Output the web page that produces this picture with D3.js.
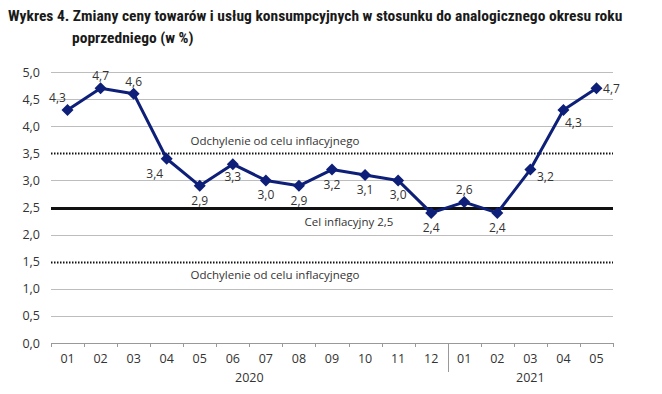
<!DOCTYPE html>
<html>
<head>
<meta charset="utf-8">
<script src="https://cdn.jsdelivr.net/npm/d3@7"></script>
<style>
body { margin: 0; background: #fff; }
text { font-family: "Open Sans", "Noto Sans", sans-serif; }
</style>
</head>
<body>
<script>
// dane
var months = ["01","02","03","04","05","06","07","08","09","10","11","12","01","02","03","04","05"];
var values = [4.3, 4.7, 4.6, 3.4, 2.9, 3.3, 3.0, 2.9, 3.2, 3.1, 3.0, 2.4, 2.6, 2.4, 3.2, 4.3, 4.7];
var yTicks = [0, 0.5, 1, 1.5, 2, 2.5, 3, 3.5, 4, 4.5, 5];
var years = ["2020", "2021"];
// pozycja etykiety: a = nad, b = pod, r = z prawej
var labelPos = ["al","a","a","bl","b","b","b","b","b","b","b","b","a","b","rb","br","r"];

var w = 662, h = 394;
var pLeft = 51, pRight = 613, pTop = 72, pBottom = 343;

var svg = d3.select("body").append("svg")
    .attr("width", w)
    .attr("height", h);

var x = d3.scaleBand()
    .domain(d3.range(months.length))
    .range([pLeft, pRight]);

var y = d3.scaleLinear()
    .domain([0, 5])
    .range([pBottom, pTop]);

// tytuł
var title = svg.append("text")
    .attr("x", 8).attr("y", 21)
    .style("font-family", "'Liberation Sans Narrow', 'Roboto Condensed', sans-serif")
    .style("font-weight", "bold")
    .style("font-size", "15.5px")
    .attr("fill", "#1a1a1a");
title.append("tspan").text("Wykres 4. Zmiany ceny towarów i usług konsumpcyjnych w stosunku do analogicznego okresu roku");
title.append("tspan").attr("x", 72).attr("y", 43).text("poprzedniego (w %)");

// linie siatki
svg.selectAll("line.grid")
    .data(yTicks.filter(function(d) { return d > 0; }))
    .enter()
    .append("line")
    .attr("class", "grid")
    .attr("x1", pLeft).attr("x2", pRight)
    .attr("y1", function(d) { return Math.round(y(d)) + 0.5; })
    .attr("y2", function(d) { return Math.round(y(d)) + 0.5; })
    .attr("stroke", function(d) { return (d === 2.5 || d === 1.5 || d === 3.5) ? "#111" : "#bdbdbd"; })
    .attr("stroke-width", function(d) { return d === 2.5 ? 3 : (d === 1.5 || d === 3.5) ? 2 : 1; })
    .attr("stroke-dasharray", function(d) { return (d === 1.5 || d === 3.5) ? "1.5,1.5" : null; });

// oś Y
svg.selectAll("text.ytick")
    .data(yTicks)
    .enter()
    .append("text")
    .attr("class", "ytick")
    .attr("x", 40)
    .attr("y", function(d) { return y(d) + 4.5; })
    .attr("text-anchor", "end")
    .style("font-size", "12.5px")
    .attr("fill", "#333")
    .text(function(d) { return d3.format(".1f")(d).replace(".", ","); });

// oś X
svg.append("line")
    .attr("x1", pLeft).attr("x2", pRight)
    .attr("y1", pBottom + 0.5).attr("y2", pBottom + 0.5)
    .attr("stroke", "#999");

var ticks = d3.range(months.length + 1);
svg.selectAll("line.xtick")
    .data(ticks)
    .enter()
    .append("line")
    .attr("class", "xtick")
    .attr("x1", function(i) { return Math.round(pLeft + i * x.step()) + 0.5; })
    .attr("x2", function(i) { return Math.round(pLeft + i * x.step()) + 0.5; })
    .attr("y1", pBottom)
    .attr("y2", function(i) { return i === 12 ? 372 : pBottom + 4; })
    .attr("stroke", "#999");

svg.selectAll("text.xlab")
    .data(months)
    .enter()
    .append("text")
    .attr("class", "xlab")
    .attr("x", function(d, i) { return x(i) + x.bandwidth() / 2; })
    .attr("y", 363)
    .attr("text-anchor", "middle")
    .style("font-size", "12.5px")
    .attr("fill", "#333")
    .text(function(d) { return d; });

svg.selectAll("text.year")
    .data(years)
    .enter()
    .append("text")
    .attr("class", "year")
    .attr("x", function(d, i) { return i === 0 ? (x(0) + x(11) + x.bandwidth()) / 2 : x(14) + x.bandwidth() / 2; })
    .attr("y", 382)
    .attr("text-anchor", "middle")
    .style("font-size", "12.5px")
    .attr("fill", "#333")
    .text(function(d) { return d; });

// opisy linii
var notes = [
    { t: "Odchylenie od celu inflacyjnego", v: 3.5, dy: -8, cx: 275 },
    { t: "Cel inflacyjny 2,5", v: 2.5, dy: 18, cx: 349 },
    { t: "Odchylenie od celu inflacyjnego", v: 1.5, dy: 17, cx: 275 }
];
svg.selectAll("text.note")
    .data(notes)
    .enter()
    .append("text")
    .attr("class", "note")
    .attr("x", function(d) { return d.cx; })
    .attr("y", function(d) { return y(d.v) + d.dy; })
    .attr("text-anchor", "middle")
    .style("font-size", "11.5px")
    .attr("fill", "#333")
    .text(function(d) { return d.t; });

// seria
var line = d3.line()
    .x(function(d, i) { return x(i) + x.bandwidth() / 2; })
    .y(function(d) { return y(d); });

svg.append("path")
    .datum(values)
    .attr("d", line)
    .attr("fill", "none")
    .attr("stroke", "#0d1f78")
    .attr("stroke-width", 3)
    .attr("stroke-linejoin", "round");

svg.selectAll("path.marker")
    .data(values)
    .enter()
    .append("path")
    .attr("class", "marker")
    .attr("d", "M0,-6L6,0L0,6L-6,0Z")
    .attr("transform", function(d, i) { return "translate(" + (x(i) + x.bandwidth() / 2) + "," + y(d) + ")"; })
    .attr("fill", "#0d1f78");

svg.selectAll("text.val")
    .data(values)
    .enter()
    .append("text")
    .attr("class", "val")
    .attr("x", function(d, i) {
        var cx = x(i) + x.bandwidth() / 2;
        var p = labelPos[i];
        if (p === "al") return cx - 10;
        if (p === "bl") return cx - 12;
        if (p === "rb") return cx + 15;
        if (p === "br") return cx + 10;
        if (p === "r") return cx + 15;
        return cx;
    })
    .attr("y", function(d, i) {
        var p = labelPos[i];
        if (p === "al") return y(d) - 8;
        if (p === "a") return y(d) - 8;
        if (p === "r") return y(d) + 5;
        if (p === "rb") return y(d) + 11;
        if (p === "br") return y(d) + 17;
        if (p === "b" && i === 5) return y(d) + 17;
        return y(d) + 19;
    })
    .attr("text-anchor", "middle")
    .style("font-size", "12px")
    .attr("fill", "#333")
    .text(function(d) { return d3.format(".1f")(d).replace(".", ","); });
</script>
</body>
</html>
